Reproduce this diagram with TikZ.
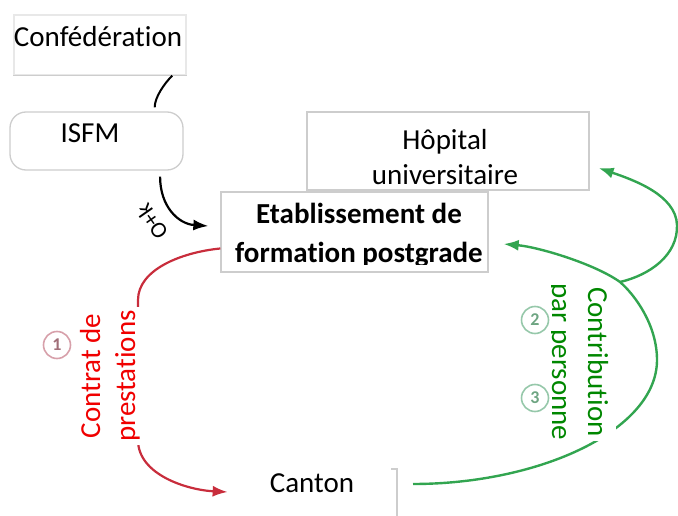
\documentclass[tikz,border=0pt]{standalone}
\usepackage{fontspec}
\setmainfont{Carlito}[Ligatures=NoCommon]
\usetikzlibrary{arrows.meta}
\definecolor{boxgray}{RGB}{205,205,205}
\definecolor{boxlight}{RGB}{232,232,232}
\definecolor{curvered}{RGB}{200,45,60}
\definecolor{textred}{RGB}{240,0,0}
\definecolor{curvegreen}{RGB}{50,165,80}
\definecolor{textgreen}{RGB}{0,135,0}
\definecolor{numred}{RGB}{215,160,170}
\definecolor{numredtext}{RGB}{160,110,120}
\definecolor{numgreen}{RGB}{150,200,170}
\definecolor{numgreentext}{RGB}{110,165,130}
\tikzset{
  >={Latex[length=15pt,width=11pt]},
}
\tikzstyle{box}=[draw=boxgray,line width=1.3pt,fill=white,inner sep=0pt]
\tikzstyle{txt}=[inner sep=0pt]
\tikzstyle{flow}=[line width=2.2pt,->]
\tikzstyle{num}=[circle,draw,line width=1.6pt,minimum size=27pt,inner sep=0pt,font=\fontsize{18}{18}\selectfont\bfseries]
\tikzstyle{every node}=[font=\fontsize{29}{35}\selectfont]

\begin{document}
\begin{tikzpicture}[x=1pt,y=-1pt]
  \useasboundingbox (0,0) rectangle (678,516);
  % boxes
  \node[box,draw=boxlight,minimum width=172pt,minimum height=60pt] (conf) at (100,45) {};
  \draw[boxgray,line width=1.6pt] (conf.south west) -- (conf.south east);
  \node[box,rounded corners=16pt,minimum width=173pt,minimum height=58pt] (isfm) at (96.5,141) {};
  \node[box,minimum width=282pt,minimum height=78pt] (hop) at (448,151) {};
  \node[box,minimum width=267pt,minimum height=80pt] (etab) at (354.5,232) {};
  \coordinate (cantonedge) at (397,469);
  \draw[boxgray,line width=1.3pt] ([xshift=-6pt]cantonedge) -- (cantonedge) -- (397,516);
  % texts
  \node[txt,anchor=base] (conft) at (98,47) {Confédération};
  \node[txt,anchor=base] (isfmt) at (90,143) {ISFM};
  \node[txt,anchor=base,align=center] (hopt) at (445,185) {Hôpital\\universitaire};
  \begin{scope}
    \clip (221,192) rectangle (488,264);
    \node[txt,anchor=base,align=center,font=\fontsize{29}{35}\selectfont\bfseries] (etabt) at (359,262) {Etablissement de\\[4pt]formation postgrade};
  \end{scope}
  \node[txt,anchor=base] (canton) at (312,492) {Canton};
  % ISFM
  \draw[line width=2pt] (conf.-23) .. controls +(-8,8) and +(0,-10) .. ([yshift=4pt]isfm.27);
  \draw[flow] ([yshift=-6pt]isfm.-25) .. controls +(0,30) and +(-30,-2) .. ([xshift=-12pt,yshift=6pt]etab.west);
  \node[font=\fontsize{23}{23}\selectfont,rotate=125,inner sep=0pt] (ok) at (152,222) {O+k};
  % contrat
  \draw[flow,curvered] (etab.187) .. controls +(-40,4) and +(0,-30) .. (138,300) -- (138,440)
    .. controls +(0,35) and +(-40,-2) .. ([xshift=-42pt]canton.base west);
  \node[txt,rotate=90,anchor=base,align=center,text=textred,fill=white,inner sep=3pt] (contrat) at (135,376) {Contrat de\\prestations};
  \node[num,draw=numred,text=numredtext] (n1) at (57,345) {1};
  % contribution
  \coordinate (split) at (620,282);
  \draw[flow,curvegreen,line width=2.4pt] ([xshift=16pt,yshift=-15pt]cantonedge) .. controls +(127,0) and +(0,70) .. (657,360)
    .. controls +(0,-35) and +(15,13) .. (split) .. controls +(-25,-18) and +(35,3) .. ([xshift=15pt,yshift=-12pt]etab.east);
  \draw[flow,curvegreen,line width=2.4pt] (split) .. controls +(30,-7) and +(1,30) .. (677,225)
    .. controls +(-1,-30) and +(35,12) .. ([xshift=9pt,yshift=-17pt]hop.east);
  \begin{scope}
    \clip (551,283) rectangle (617,440);
    \node[txt,rotate=-90,anchor=base,align=center,text=textgreen,fill=white,inner sep=8pt] (contrib) at (552,362) {Contribution\\[1pt]par personne};
  \end{scope}
  \node[num,draw=numgreen,text=numgreentext] (n2) at (535,320) {2};
  \node[num,draw=numgreen,text=numgreentext] (n3) at (535,398) {3};
\end{tikzpicture}
\end{document}
